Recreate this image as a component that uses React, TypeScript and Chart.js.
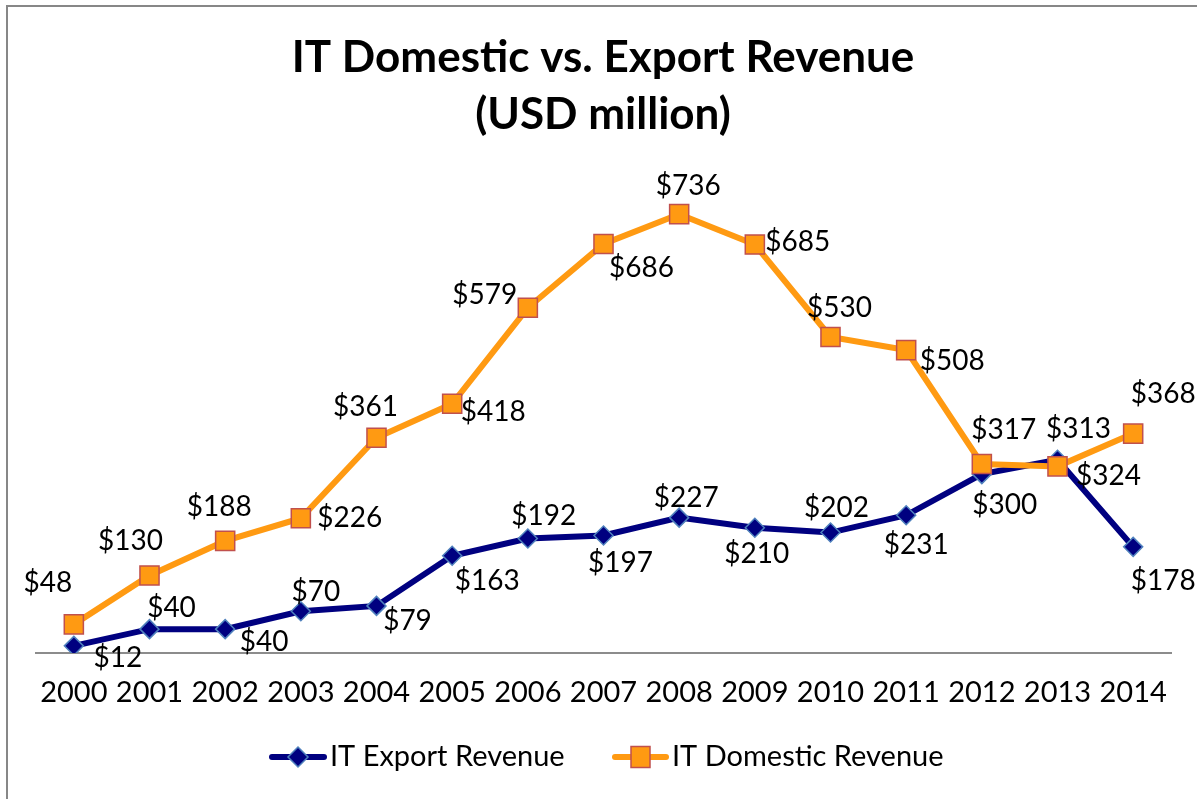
import React, { useEffect, useRef } from "react";
import { Chart, registerables } from "chart.js";

Chart.register(...registerables);

const years = ["2000", "2001", "2002", "2003", "2004", "2005", "2006", "2007", "2008", "2009", "2010", "2011", "2012", "2013", "2014"];
const exportRevenue = [12, 40, 40, 70, 79, 163, 192, 197, 227, 210, 202, 231, 300, 324, 178];
const domesticRevenue = [48, 130, 188, 226, 361, 418, 579, 686, 736, 685, 530, 508, 317, 313, 368];
const titleLines = ["IT Domestic vs. Export Revenue", "(USD million)"];
const seriesNames = ["IT Export Revenue", "IT Domestic Revenue"];

// label placement relative to each point (layout only)
const exportLabelOffsets = [[44, 12], [22, -21], [39, 13], [15, -19], [31, 15], [35, 25], [16, -23], [17, 27], [7, -20], [2, 26], [6, -25], [10, 30], [23, 31], [51, 16], [30, 34]];
const domesticLabelOffsets = [[-26, -41], [-19, -35], [-6, -34], [49, 0], [-11, -31], [41, 8], [-43, -13], [38, 24], [9, -28], [43, -3], [9, -29], [46, 11], [22, -34], [21, -37], [30, -40]];

const FONT = "Lato, 'Open Sans', sans-serif";
const NAVY = "#000080";
const NAVY_EDGE = "#4F81BD";
const ORANGE = "#FF9A12";
const ORANGE_EDGE = "#C0504D";

const overlayPlugin = {
  id: "overlay",
  afterDatasetsDraw(chart: any) {
    const ctx = chart.ctx as CanvasRenderingContext2D;
    ctx.save();
    ctx.fillStyle = "#000";
    ctx.textAlign = "center";
    ctx.textBaseline = "middle";
    ctx.font = `28px ${FONT}`;
    const offsetSets = [exportLabelOffsets, domesticLabelOffsets];
    chart.data.datasets.forEach((ds: any, di: number) => {
      const meta = chart.getDatasetMeta(di);
      meta.data.forEach((pt: any, i: number) => {
        const o = offsetSets[di][i];
        ctx.fillText("$" + ds.data[i], pt.x + o[0], pt.y + o[1]);
      });
    });

    // title
    ctx.font = `bold 44px ${FONT}`;
    ctx.fillText(titleLines[0], 603, 58);
    ctx.fillText(titleLines[1], 603, 115);

    // legend
    const ly = 757;
    ctx.lineCap = "round";
    ctx.lineWidth = 6;
    ctx.strokeStyle = NAVY;
    ctx.beginPath();
    ctx.moveTo(272, ly);
    ctx.lineTo(324, ly);
    ctx.stroke();
    ctx.beginPath();
    const r = 10;
    const dx = 298;
    ctx.moveTo(dx - r, ly);
    ctx.lineTo(dx, ly - r);
    ctx.lineTo(dx + r, ly);
    ctx.lineTo(dx, ly + r);
    ctx.closePath();
    ctx.fillStyle = NAVY;
    ctx.fill();
    ctx.lineWidth = 1.5;
    ctx.strokeStyle = NAVY_EDGE;
    ctx.stroke();

    ctx.lineWidth = 6;
    ctx.strokeStyle = ORANGE;
    ctx.beginPath();
    ctx.moveTo(615, ly);
    ctx.lineTo(666, ly);
    ctx.stroke();
    ctx.fillStyle = ORANGE;
    ctx.fillRect(631, ly - 10.5, 19, 21);
    ctx.lineWidth = 1.5;
    ctx.strokeStyle = ORANGE_EDGE;
    ctx.strokeRect(631, ly - 10.5, 19, 21);

    ctx.fillStyle = "#000";
    ctx.textAlign = "left";
    ctx.font = `29px ${FONT}`;
    ctx.fillText(seriesNames[0], 330, ly);
    ctx.fillText(seriesNames[1], 672, ly);
    ctx.restore();
  },
};

export default function App() {
  const ref = useRef<HTMLCanvasElement | null>(null);
  useEffect(() => {
    if (!ref.current) return;
    const chart = new Chart(ref.current, {
      type: "line",
      data: {
        labels: years,
        datasets: [
          {
            label: seriesNames[0],
            data: exportRevenue,
            borderColor: NAVY,
            backgroundColor: NAVY,
            borderWidth: 6,
            pointStyle: "rectRot",
            pointRadius: 9.5,
            pointBackgroundColor: NAVY,
            pointBorderColor: NAVY_EDGE,
            pointBorderWidth: 1.5,
            tension: 0,
            order: 1,
          },
          {
            label: seriesNames[1],
            data: domesticRevenue,
            borderColor: ORANGE,
            backgroundColor: ORANGE,
            borderWidth: 6,
            pointStyle: "rect",
            pointRadius: 13.5,
            pointBackgroundColor: ORANGE,
            pointBorderColor: ORANGE_EDGE,
            pointBorderWidth: 1.5,
            tension: 0,
            order: 0,
          },
        ],
      },
      options: {
        animation: false,
        responsive: false,
        devicePixelRatio: 1,
        events: [],
        layout: { padding: { left: 36, right: 26, top: 176, bottom: 86 } },
        plugins: {
          legend: { display: false },
          title: { display: false },
          tooltip: { enabled: false },
        },
        scales: {
          x: {
            offset: true,
            grid: { display: false, drawTicks: false },
            border: { display: true, color: "#8C8C8C", width: 2 },
            ticks: { color: "#000", font: { family: FONT, size: 29 }, padding: 22, maxRotation: 0, autoSkip: false },
            afterFit: (scale: any) => {
              scale.height = 60;
            },
          },
          y: {
            display: false,
            min: 0,
            max: 800,
          },
        },
      },
      plugins: [overlayPlugin],
    });
    return () => chart.destroy();
  }, []);

  return (
    <div style={{ position: "fixed", left: 0, top: 0, width: 1197, height: 799, overflow: "hidden", background: "#fff" }}>
      <div
        style={{
          position: "absolute",
          left: 6,
          top: 5,
          width: 1400,
          height: 1000,
          borderLeft: "2px solid #878787",
          borderTop: "2px solid #878787",
        }}
      />
      <canvas ref={ref} width={1197} height={799} style={{ position: "absolute", left: 0, top: 0 }} />
    </div>
  );
}
